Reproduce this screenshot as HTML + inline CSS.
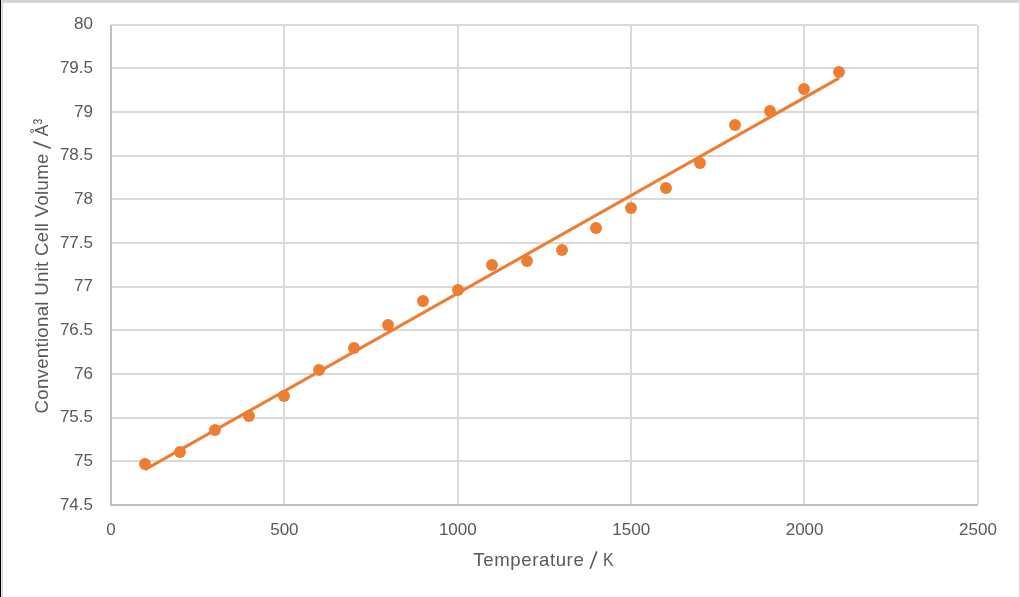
<!DOCTYPE html><html><head><meta charset="utf-8"><style>html,body{margin:0;padding:0;background:#fff;width:1020px;height:597px;overflow:hidden}svg{position:absolute;left:0;top:0;display:block}.t{filter:grayscale(1)}</style></head><body>
<svg width="1020" height="597" viewBox="0 0 1020 597" shape-rendering="crispEdges">
<rect x="0" y="0" width="1020" height="597" fill="#fff"/>
<rect x="0" y="0" width="1020" height="3" fill="#d4d4d4"/>
<rect x="0" y="2" width="1020" height="1" fill="#d9d9d9"/>
<rect x="1" y="0" width="1" height="597" fill="#e2e2e2"/>
<rect x="2" y="0" width="1" height="597" fill="#d9d9d9"/>
<rect x="0" y="0" width="1" height="597" fill="#000"/>
<rect x="1019" y="0" width="1" height="597" fill="#d9d9d9"/>
<rect x="3" y="596" width="1016" height="1" fill="#f6f6f6"/>
<rect x="111" y="24" width="866" height="2" fill="#d9d9d9"/>
<rect x="111" y="67" width="866" height="2" fill="#d9d9d9"/>
<rect x="111" y="111" width="866" height="2" fill="#d9d9d9"/>
<rect x="111" y="155" width="866" height="2" fill="#d9d9d9"/>
<rect x="111" y="198" width="866" height="2" fill="#d9d9d9"/>
<rect x="111" y="242" width="866" height="2" fill="#d9d9d9"/>
<rect x="111" y="286" width="866" height="2" fill="#d9d9d9"/>
<rect x="111" y="329" width="866" height="2" fill="#d9d9d9"/>
<rect x="111" y="373" width="866" height="2" fill="#d9d9d9"/>
<rect x="111" y="417" width="866" height="2" fill="#d9d9d9"/>
<rect x="111" y="460" width="866" height="2" fill="#d9d9d9"/>
<rect x="283" y="25" width="2" height="479" fill="#d9d9d9"/>
<rect x="457" y="25" width="2" height="479" fill="#d9d9d9"/>
<rect x="630" y="25" width="2" height="479" fill="#d9d9d9"/>
<rect x="803" y="25" width="2" height="479" fill="#d9d9d9"/>
<rect x="977" y="25" width="2" height="479" fill="#d9d9d9"/>
<rect x="110" y="25" width="2" height="481" fill="#bfbfbf"/>
<rect x="110" y="504" width="868" height="2" fill="#bfbfbf"/>
</svg>
<svg class="t" width="1020" height="597" viewBox="0 0 1020 597">
<g font-family="Liberation Sans, sans-serif" font-size="17.0" fill="#595959" letter-spacing="0.0">
<text x="93.0" y="29" text-anchor="end">80</text>
<text x="93.0" y="73" text-anchor="end">79.5</text>
<text x="93.0" y="117" text-anchor="end">79</text>
<text x="93.0" y="160" text-anchor="end">78.5</text>
<text x="93.0" y="204" text-anchor="end">78</text>
<text x="93.0" y="248" text-anchor="end">77.5</text>
<text x="93.0" y="291" text-anchor="end">77</text>
<text x="93.0" y="335" text-anchor="end">76.5</text>
<text x="93.0" y="379" text-anchor="end">76</text>
<text x="93.0" y="422" text-anchor="end">75.5</text>
<text x="93.0" y="466" text-anchor="end">75</text>
<text x="93.0" y="510" text-anchor="end">74.5</text>
<text x="111.00" y="534.92" text-anchor="middle">0</text>
<text x="284.40" y="534.92" text-anchor="middle">500</text>
<text x="457.80" y="534.92" text-anchor="middle">1000</text>
<text x="631.20" y="534.92" text-anchor="middle">1500</text>
<text x="804.60" y="534.92" text-anchor="middle">2000</text>
<text x="978.00" y="534.92" text-anchor="middle">2500</text>
</g>
<text x="544" y="565.85" text-anchor="middle" font-family="Liberation Sans, sans-serif" font-size="18.6" fill="#595959" letter-spacing="0.6">Temperature <tspan fill-opacity="0">/ K</tspan></text>
<text transform="translate(48.3,265.6) rotate(-90)" x="0" y="0" text-anchor="middle" font-family="Liberation Sans, sans-serif" font-size="18.6" fill="#595959" letter-spacing="0.31">Conventional Unit Cell Volume <tspan fill-opacity="0">/ Å³</tspan></text>
<g fill="#595959" font-family="Liberation Sans, sans-serif"><text transform="translate(48.2,136.2) rotate(-90) scale(0.94,1)" font-size="18.6">A</text>
<text transform="translate(48.3,124.4) rotate(-90) scale(0.91,1.16)" font-size="18.6">³</text></g>
<circle cx="32.0" cy="130.9" r="1.5" fill="none" stroke="#595959" stroke-width="0.9"/>
<text transform="translate(602.94,565.85) scale(0.855,1)" font-family="Liberation Sans, sans-serif" font-size="18.6" fill="#595959">K</text>
<line x1="590.2" y1="568.8" x2="596.8" y2="551.4" stroke="#595959" stroke-width="1.65"/>
<line x1="33.4" y1="141.9" x2="50.8" y2="148.2" stroke="#595959" stroke-width="1.65"/>
</svg>
<svg width="1020" height="597" viewBox="0 0 1020 597">
<line x1="145.0" y1="469.7" x2="839.0" y2="78.2" stroke="#ED7D31" stroke-width="3.1"/>
<circle cx="145" cy="464" r="5.93" fill="#ED7D31"/>
<circle cx="180" cy="452" r="5.93" fill="#ED7D31"/>
<circle cx="215" cy="430" r="5.93" fill="#ED7D31"/>
<circle cx="249" cy="416" r="5.93" fill="#ED7D31"/>
<circle cx="284" cy="396" r="5.93" fill="#ED7D31"/>
<circle cx="319" cy="370" r="5.93" fill="#ED7D31"/>
<circle cx="354" cy="348" r="5.93" fill="#ED7D31"/>
<circle cx="388" cy="325" r="5.93" fill="#ED7D31"/>
<circle cx="423" cy="301" r="5.93" fill="#ED7D31"/>
<circle cx="458" cy="290" r="5.93" fill="#ED7D31"/>
<circle cx="492" cy="265" r="5.93" fill="#ED7D31"/>
<circle cx="527" cy="261" r="5.93" fill="#ED7D31"/>
<circle cx="562" cy="250" r="5.93" fill="#ED7D31"/>
<circle cx="596" cy="228" r="5.93" fill="#ED7D31"/>
<circle cx="631" cy="208" r="5.93" fill="#ED7D31"/>
<circle cx="666" cy="188" r="5.93" fill="#ED7D31"/>
<circle cx="700" cy="163" r="5.93" fill="#ED7D31"/>
<circle cx="735" cy="125" r="5.93" fill="#ED7D31"/>
<circle cx="770" cy="111" r="5.93" fill="#ED7D31"/>
<circle cx="804" cy="89" r="5.93" fill="#ED7D31"/>
<circle cx="839" cy="72" r="5.93" fill="#ED7D31"/>
</svg></body></html>
